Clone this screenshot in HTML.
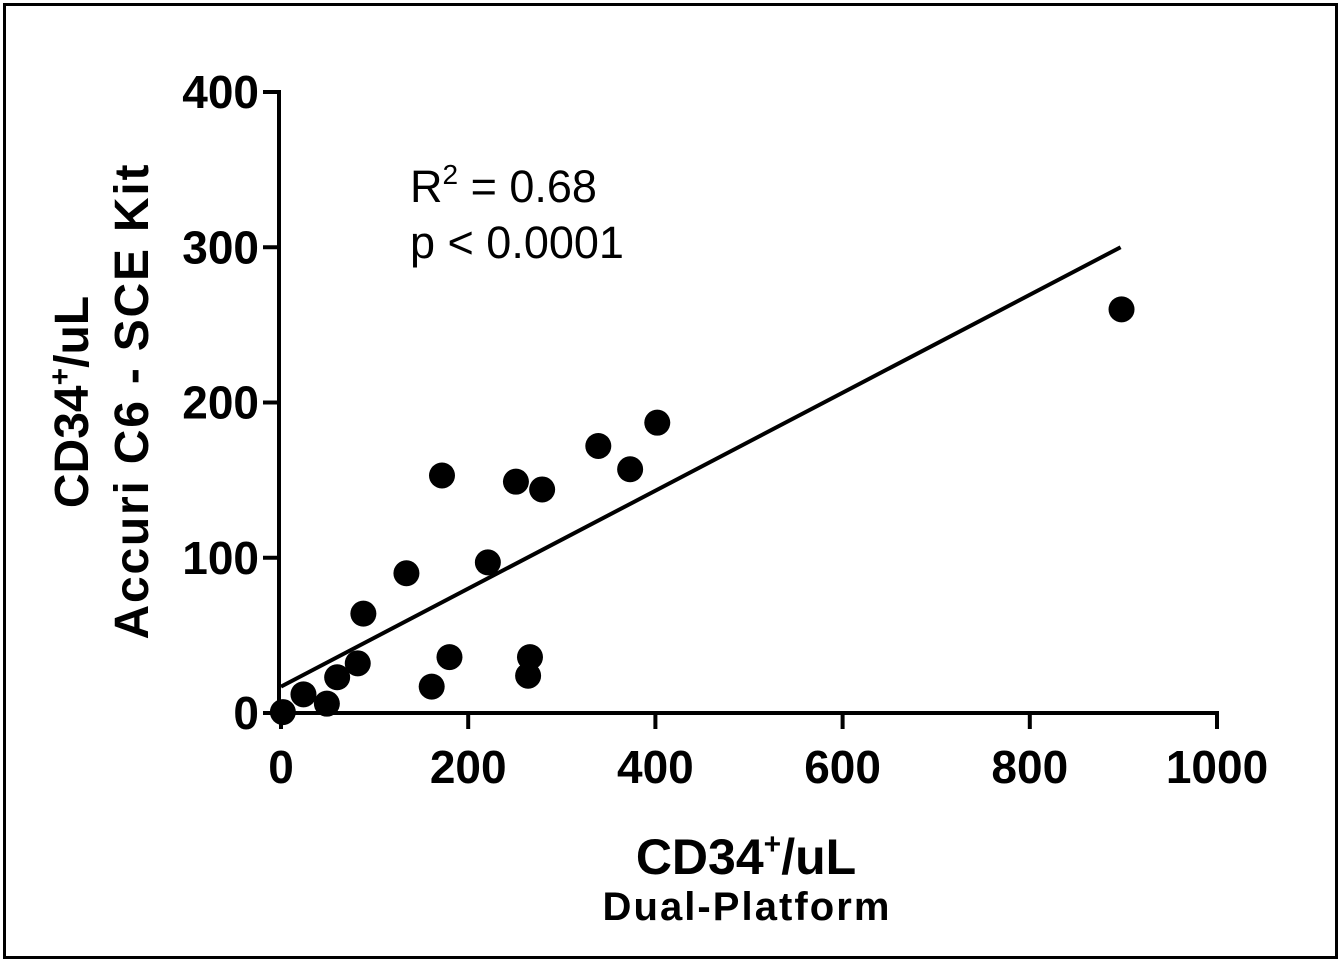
<!DOCTYPE html>
<html><head><meta charset="utf-8"><style>
html,body{margin:0;padding:0;background:#fff}
svg{display:block;font-family:"Liberation Sans",Arial,sans-serif}
</style></head><body>
<svg id="chart" width="1341" height="962" viewBox="0 0 1341 962">
<rect x="4.5" y="4.5" width="1332" height="953" fill="none" stroke="#000" stroke-width="3"/>
<g id="axes"></g>
<g id="marks"></g>
<text x="410" y="202" font-size="45">R<tspan font-size="28" dy="-18">2</tspan><tspan dy="18"> = 0.68</tspan></text>
<text x="410" y="258" font-size="45">p &lt; 0.0001</text>
<text x="746" y="874" font-size="50" font-weight="bold" text-anchor="middle">CD34<tspan font-size="30" dy="-20">+</tspan><tspan dy="20">/uL</tspan></text>
<text x="746" y="920" font-size="40" font-weight="bold" text-anchor="middle" textLength="287">Dual-Platform</text>
<g transform="translate(88,402) rotate(-90)">
<text x="0" y="0" font-size="48" font-weight="bold" text-anchor="middle">CD34<tspan font-size="30" dy="-18">+</tspan><tspan dy="18">/uL</tspan></text>
<text x="0" y="60" font-size="48" font-weight="bold" text-anchor="middle" textLength="475">Accuri C6 - SCE Kit</text>
</g>
</svg>
<script>
const xVals=[2,24,49,60,82,88,134,221,180,161,266,264,172,251,279,339,373,402,898];
const yVals=[0.6,12,6,23,32,64,90,97,36,17,36,24,153,149,144,172,157,187,260];
const xTicks=[0,200,400,600,800,1000];
const yTicks=[0,100,200,300,400];
const fitLine=[[0,17],[897,300]];
const NS="http://www.w3.org/2000/svg";
const X0=281,X1=1217,Y0=713,Y1=92;
function sx(v){return X0+(v-0)/1000*(X1-X0);}
function sy(v){return Y0-(v-0)/400*(Y0-Y1);}
function mk(t,a,p){const e=document.createElementNS(NS,t);for(const k in a)e.setAttribute(k,a[k]);p.appendChild(e);return e;}
const axes=document.getElementById('axes'),marks=document.getElementById('marks');
let l=mk('line',{x1:X0-2,y1:Y0,x2:X1+2,y2:Y0,stroke:'#000','stroke-width':4},axes);


l=mk('line',{x1:X0-2,y1:Y1-2,x2:X0-2,y2:Y0+2,stroke:'#000','stroke-width':4},axes);


xTicks.forEach(v=>{
 const t=mk('line',{x1:sx(v),y1:Y0,x2:sx(v),y2:Y0+16,stroke:'#000','stroke-width':4},axes);
 
 
 const tx=mk('text',{x:sx(v),y:Y0+70,'font-size':46,'font-weight':'bold','text-anchor':'middle'},axes);
 tx.textContent=v;
 
 
});
yTicks.forEach(v=>{
 const t=mk('line',{x1:X0-18,y1:sy(v),x2:X0,y2:sy(v),stroke:'#000','stroke-width':4},axes);
 
 
 const tx=mk('text',{x:X0-22,y:sy(v)+16,'font-size':46,'font-weight':'bold','text-anchor':'end'},axes);
 tx.textContent=v;
 
 
});
const fl=mk('line',{x1:sx(fitLine[0][0]),y1:sy(fitLine[0][1]),x2:sx(fitLine[1][0]),y2:sy(fitLine[1][1]),stroke:'#000','stroke-width':4},marks);


xVals.forEach((x,i)=>{
 const c=mk('circle',{cx:sx(x),cy:sy(yVals[i]),r:13,fill:'#000'},marks);
 
 
});
</script>
</body></html>
